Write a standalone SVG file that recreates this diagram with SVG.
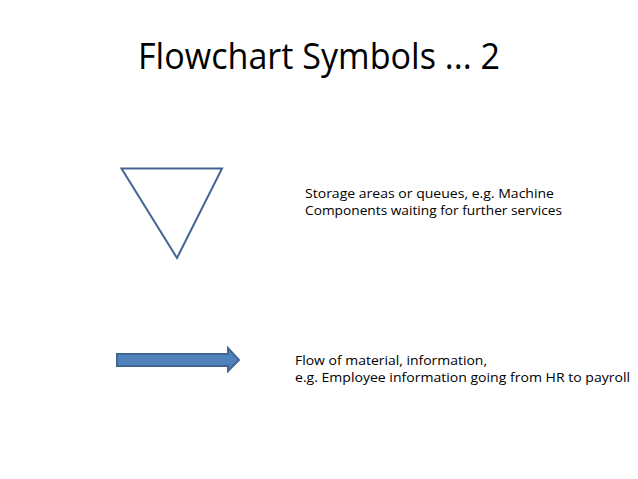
<svg xmlns="http://www.w3.org/2000/svg" width="638" height="479" viewBox="0 0 638 479">
<style>
text{font-family:"Open Sans","Liberation Sans",Arial,sans-serif;fill:#000}
.t{font-size:36px}
.b{font-size:13px}
.shape{stroke:#426592;stroke-width:2;stroke-linejoin:miter}
</style>
<rect width="638" height="479" fill="#fff"/>
<text class="t" x="138" y="69" textLength="362" lengthAdjust="spacingAndGlyphs">Flowchart Symbols ... 2</text>
<g id="storage">
<polygon class="shape" points="121.5,168.5 222,168.5 177,258" fill="#fff"/>
</g>
<g id="flow">
<polygon class="shape" points="117,354 228,354 228,348 239,360 228,371 228,366 117,366" fill="#4f81bd" stroke-width="1.2"/>
</g>
<g id="labels">
<text class="b" x="305" y="198" textLength="249" lengthAdjust="spacingAndGlyphs">Storage areas or queues, e.g. Machine</text>
<text class="b" x="305" y="215" textLength="257" lengthAdjust="spacingAndGlyphs">Components waiting for further services</text>
<text class="b" x="295" y="365" textLength="192" lengthAdjust="spacingAndGlyphs">Flow of material, information,</text>
<text class="b" x="295" y="382" textLength="335" lengthAdjust="spacingAndGlyphs">e.g. Employee information going from HR to payroll</text>
</g>
<g id="connectors"></g>
</svg>
